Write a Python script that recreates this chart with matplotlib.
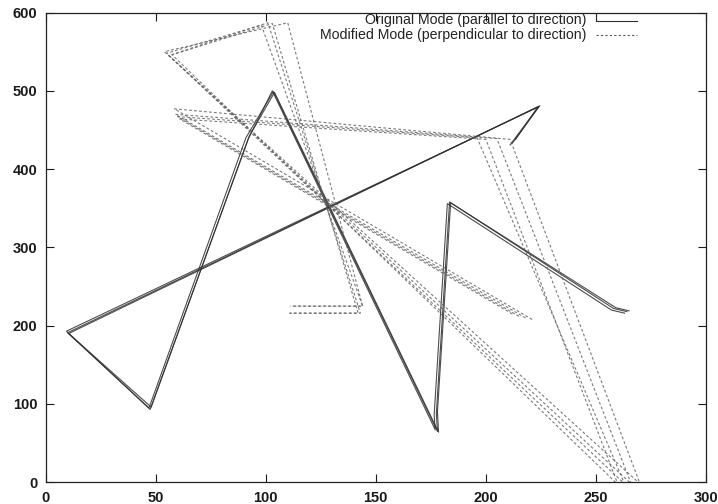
import numpy as np
import matplotlib
matplotlib.use("Agg")
import matplotlib.pyplot as plt

plt.rcParams['font.family'] = ['Liberation Sans', 'DejaVu Sans']

# original mode: three recorded runs (x, y) of the same gesture
orig_x = [
    [264, 258, 183.5, 177.5, 178, 103.5, 91, 47, 10, 224, 211],
    [263, 257, 182.5, 176.5, 177, 103, 92, 47.5, 9.5, 223.5, 213.5],
    [265, 259, 184, 178, 178.5, 104, 92.5, 48, 10.5, 224.5, 212],
]
orig_y = [
    [218, 222, 358, 88, 65, 499, 440, 95, 191, 480, 431],
    [216, 220, 356, 86, 67, 500, 438, 93, 193, 479, 438],
    [219, 223, 357, 90, 64, 498, 442, 96, 190, 481, 433],
]

# modified mode: four runs
mod_x = [
    [221, 58.5, 211, 270, 54, 110, 144, 111],
    [215, 60, 196, 263, 56, 101, 143, 110],
    [218, 59, 205, 266, 55, 98, 144, 112],
    [212, 61, 200, 260, 57.5, 103, 142, 111],
]
mod_y = [
    [208, 477, 438, -2, 550, 587, 225, 225],
    [212, 467, 440, -2, 545, 587, 216, 216],
    [210, 470, 439, -2, 548, 584, 225, 225],
    [215, 464, 438, -3, 546, 586, 216, 216],
]

fig = plt.figure(figsize=(7.18, 5.04), dpi=100)
ax = fig.add_axes([0.0634, 0.0431, 0.92, 0.932])

for xs, ys in zip(orig_x, orig_y):
    ax.plot(xs, ys, color='#2e2e2e', lw=0.8, alpha=0.85)
for xs, ys in zip(mod_x, mod_y):
    ax.plot(xs, ys, color='#5a5a5a', lw=0.8, dashes=(2.5, 2.0), alpha=0.8)

ax.set_xlim(0, 300)
ax.set_ylim(0, 600)
ax.set_xticks(np.arange(0, 301, 50))
ax.set_yticks(np.arange(0, 601, 100))
ax.tick_params(direction='in', length=6, width=0.8, top=True, right=True,
               labelsize=10.5, colors='#1a1a1a')
ax.tick_params(axis='y', pad=6)
ax.tick_params(axis='x', pad=6)
for lab in ax.get_xticklabels() + ax.get_yticklabels():
    lab.set_fontweight('bold')
for sp in ax.spines.values():
    sp.set_linewidth(0.9)
    sp.set_color('#222222')

# gnuplot style key, top right
ax.text(0.819, 0.984, "Original Mode (parallel to direction)", transform=ax.transAxes,
        ha='right', va='center', fontsize=10.2, color='#222222')
ax.text(0.819, 0.952, "Modified Mode (perpendicular to direction)", transform=ax.transAxes,
        ha='right', va='center', fontsize=10.2, color='#222222')
ax.plot([0.833, 0.833, 0.895], [0.998, 0.9825, 0.9825], transform=ax.transAxes,
        color='#2e2e2e', lw=0.8)
ax.plot([0.833, 0.895], [0.952, 0.952], transform=ax.transAxes,
        color='#5a5a5a', lw=0.8, dashes=(2.0, 2.0))

fig.savefig("out.png", dpi=100)
